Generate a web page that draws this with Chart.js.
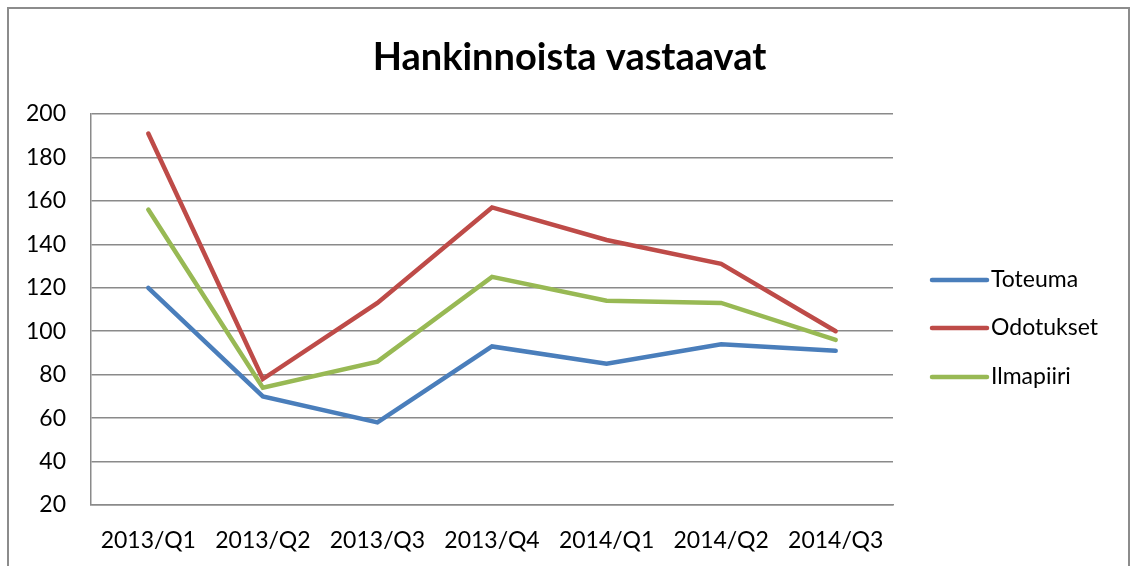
<!DOCTYPE html>
<html>
<head>
<meta charset="utf-8">
<script src="https://cdn.jsdelivr.net/npm/chart.js@4"></script>
<style>
  html, body { margin: 0; padding: 0; background: #fff; }
  #wrap { position: relative; width: 1131px; height: 566px; }
</style>
</head>
<body>
<div id="wrap"><canvas id="c" width="1131" height="566"></canvas></div>
<script>
const chartTitle = "Hankinnoista vastaavat";
const categories = ["2013/Q1", "2013/Q2", "2013/Q3", "2013/Q4", "2014/Q1", "2014/Q2", "2014/Q3"];
const seriesNames = ["Toteuma", "Odotukset", "Ilmapiiri"];
const toteuma = [120, 70, 58, 93, 85, 94, 91];
const odotukset = [191, 78, 113, 157, 142, 131, 100];
const ilmapiiri = [156, 74, 86, 125, 114, 113, 96];
const yMin = 20, yMax = 200, yStep = 20;
const colors = ["#4A7EBB", "#BE4B48", "#98B954"];

const FONT = "Lato";
const gridColor = "#8a8a8a";

const framePlugin = {
  id: "frame",
  beforeDraw(chart) {
    const ctx = chart.ctx;
    ctx.save();
    ctx.fillStyle = "#fff";
    ctx.fillRect(0, 0, chart.width, chart.height);
    ctx.strokeStyle = "#8c8c8c";
    ctx.lineWidth = 2;
    ctx.strokeRect(8, 8, 1121, 620);
    ctx.restore();
  }
};

const legendPlugin = {
  id: "customLegend",
  afterDraw(chart) {
    const ctx = chart.ctx;
    const x0 = 932, x1 = 987, tx = 991;
    const rows = [280, 328, 377];
    ctx.save();
    chart.data.datasets.forEach((ds, i) => {
      const y = rows[i];
      ctx.strokeStyle = ds.borderColor;
      ctx.lineWidth = 4.5;
      ctx.lineCap = "round";
      ctx.beginPath();
      ctx.moveTo(x0, y);
      ctx.lineTo(x1, y);
      ctx.stroke();
      ctx.fillStyle = "#000";
      ctx.font = "23px " + FONT;
      ctx.textBaseline = "middle";
      ctx.textAlign = "left";
      ctx.fillText(ds.label, tx, y);
    });
    ctx.restore();
  }
};

const datasets = [toteuma, odotukset, ilmapiiri].map((d, i) => ({
  label: seriesNames[i],
  data: d,
  borderColor: colors[i],
  backgroundColor: colors[i],
  borderWidth: 4.5,
  pointRadius: 0,
  tension: 0,
  borderCapStyle: "round",
  borderJoinStyle: "miter",
  fill: false
}));

new Chart(document.getElementById("c"), {
  type: "line",
  data: { labels: categories, datasets: datasets },
  plugins: [framePlugin, legendPlugin],
  options: {
    responsive: false,
    animation: false,
    devicePixelRatio: 1,
    layout: { padding: { left: 8, right: 0, top: 0, bottom: 0 } },
    plugins: {
      legend: { display: false },
      tooltip: { enabled: false },
      title: {
        display: true,
        text: chartTitle,
        color: "#000",
        font: { family: FONT, size: 38, weight: "bold", lineHeight: 1.2 },
        padding: { top: 35, bottom: 33.4 }
      }
    },
    scales: {
      x: {
        offset: true,
        grid: { display: false, drawTicks: false },
        border: { display: true, color: gridColor, width: 1.5 },
        ticks: { color: "#000", font: { family: FONT, size: 23 }, padding: 22, maxRotation: 0, autoSkip: false },
        afterFit(scale) { scale.height = 61; }
      },
      y: {
        min: yMin,
        max: yMax,
        ticks: { stepSize: yStep, color: "#000", font: { family: FONT, size: 23 }, padding: 25 },
        grid: { color: gridColor, lineWidth: 1.5, drawTicks: false },
        border: { display: true, color: gridColor, width: 1.5 },
        afterFit(scale) { scale.width = 83; }
      },
      legendSpace: {
        position: "right",
        min: yMin,
        max: yMax,
        ticks: { display: false },
        grid: { display: false, drawTicks: false },
        border: { display: false },
        afterFit(scale) { scale.width = 238; }
      }
    }
  }
});
</script>
</body>
</html>
